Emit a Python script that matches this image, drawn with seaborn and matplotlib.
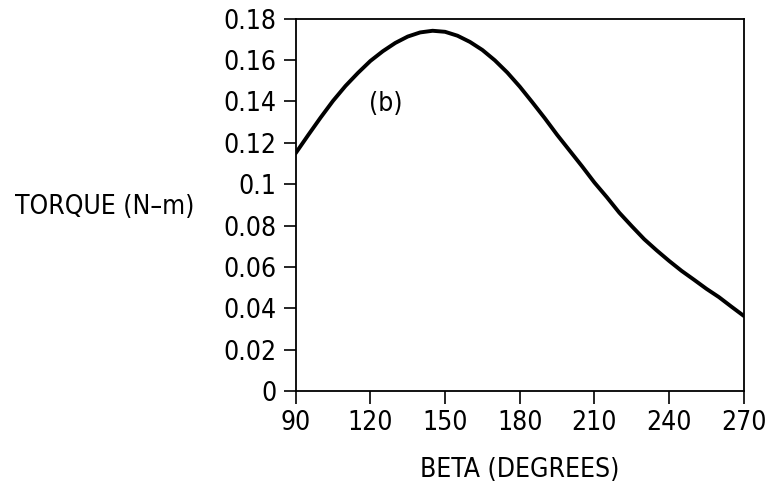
import numpy as np
import pandas as pd
import seaborn as sns
import matplotlib.pyplot as plt

# values, every 5 degrees
beta = [90, 95, 100, 105, 110, 115, 120, 125, 130, 135, 140, 145, 150, 155, 160, 165, 170, 175, 180,
        185, 190, 195, 200, 205, 210, 215, 220, 225, 230, 235, 240, 245, 250, 255, 260, 265, 270]
torque = [0.1150, 0.1237, 0.1322, 0.1403, 0.1475, 0.1538, 0.1596, 0.1643, 0.1683, 0.1714, 0.1734,
          0.1742, 0.1737, 0.1718, 0.1688, 0.1649, 0.1599, 0.1540, 0.1472, 0.1397, 0.1320, 0.1239,
          0.1163, 0.1087, 0.1008, 0.0937, 0.0862, 0.0797, 0.0734, 0.0680, 0.0629, 0.0581, 0.0538,
          0.0494, 0.0454, 0.0408, 0.0363]

x_ticks = [90, 120, 150, 180, 210, 240, 270]
y_ticks = [0, 0.02, 0.04, 0.06, 0.08, 0.1, 0.12, 0.14, 0.16, 0.18]
y_tick_labels = ['0', '0.02', '0.04', '0.06', '0.08', '0.1', '0.12', '0.14', '0.16', '0.18']

df = pd.DataFrame({'beta': beta, 'torque': torque})

sns.set_style('ticks')
plt.rcParams['font.family'] = ['DejaVu Sans']
plt.rcParams['font.stretch'] = 'condensed'
plt.rcParams['text.color'] = 'black'
plt.rcParams['axes.labelcolor'] = 'black'

fig = plt.figure(figsize=(7.7, 4.94), dpi=100)
ax = fig.add_axes([0.384, 0.2085, 0.582, 0.7535])

sns.lineplot(data=df, x='beta', y='torque', color='black', linewidth=2.8, ax=ax)

ax.set_xlim(90, 270)
ax.set_ylim(0, 0.18)
ax.set_xticks(x_ticks)
ax.set_yticks(y_ticks)
ax.set_yticklabels(y_tick_labels)
ax.tick_params(axis='both', direction='out', length=9, width=1.2, labelsize=19, colors='black')
ax.tick_params(axis='x', pad=5)
ax.tick_params(axis='y', pad=5)

for s in ax.spines.values():
    s.set_linewidth(1.3)
    s.set_color('black')
    s.set_visible(True)

ax.set_xlabel('BETA (DEGREES)', fontsize=19, labelpad=15)
ax.set_ylabel('TORQUE (N\u2013m)', fontsize=19, rotation=0, ha='right', va='center')
ax.yaxis.set_label_coords(-0.225, 0.495)

ax.text(126, 0.139, '(b)', fontsize=19, ha='center', va='center')

fig.savefig('out.png', dpi=100)
